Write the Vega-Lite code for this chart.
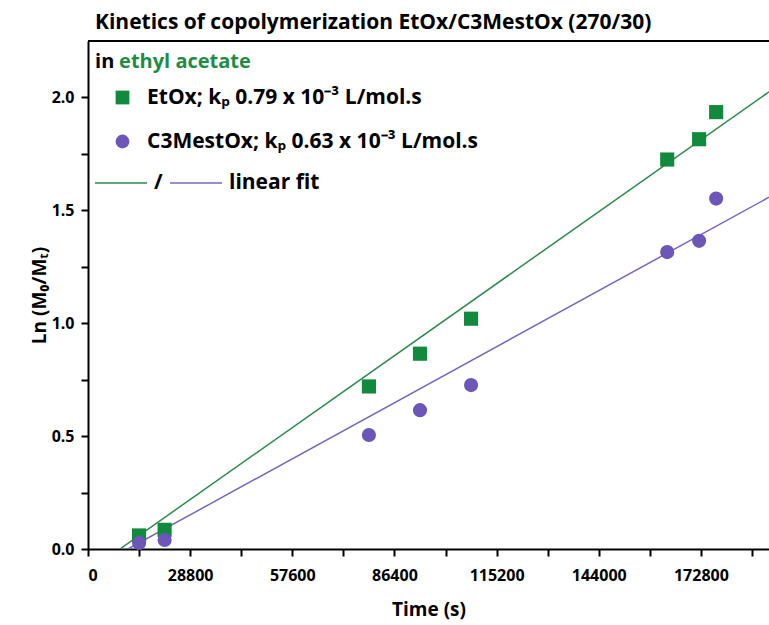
{
  "$schema": "https://vega.github.io/schema/vega-lite/v6.json",
  "autosize": {"type": "none"},
  "padding": {"left": 88, "top": 41, "right": 0, "bottom": 76},
  "width": 681,
  "height": 508,
  "background": "white",
  "title": {
    "text": "Kinetics of copolymerization EtOx/C3MestOx (270/30)",
    "anchor": "start",
    "frame": "group",
    "dx": 7,
    "offset": 7,
    "fontSize": 21,
    "fontWeight": "bold",
    "font": "Open Sans",
    "color": "black"
  },
  "config": {
    "font": "Open Sans",
    "view": {"stroke": null},
    "axis": {
      "grid": false,
      "domainColor": "black",
      "domainWidth": 2,
      "tickColor": "black",
      "tickWidth": 2,
      "tickSize": 7,
      "labelFont": "Open Sans",
      "labelFontSize": 16,
      "labelFontWeight": "bold",
      "labelColor": "black",
      "titleFont": "Open Sans",
      "titleFontSize": 19,
      "titleFontWeight": "bold",
      "titleColor": "black"
    },
    "legend": {
      "labelFont": "Open Sans",
      "labelFontSize": 21,
      "labelFontWeight": "bold",
      "labelColor": "black",
      "labelLimit": 700
    }
  },
  "datasets": {
    "points": [
      {"series": "EtOx", "time": 14400, "ln": 0.06},
      {"series": "EtOx", "time": 21600, "ln": 0.085},
      {"series": "EtOx", "time": 79200, "ln": 0.72},
      {"series": "EtOx", "time": 93600, "ln": 0.865},
      {"series": "EtOx", "time": 108000, "ln": 1.02},
      {"series": "EtOx", "time": 163300, "ln": 1.725},
      {"series": "EtOx", "time": 172300, "ln": 1.815},
      {"series": "EtOx", "time": 177100, "ln": 1.935},
      {"series": "C3MestOx", "time": 14400, "ln": 0.027},
      {"series": "C3MestOx", "time": 21600, "ln": 0.04},
      {"series": "C3MestOx", "time": 79200, "ln": 0.505},
      {"series": "C3MestOx", "time": 93600, "ln": 0.615},
      {"series": "C3MestOx", "time": 108000, "ln": 0.726},
      {"series": "C3MestOx", "time": 163300, "ln": 1.315},
      {"series": "C3MestOx", "time": 172300, "ln": 1.365},
      {"series": "C3MestOx", "time": 177100, "ln": 1.552}
    ],
    "fits": [
      {"fit": "EtOx fit", "time": 9000, "ln": 0},
      {"fit": "EtOx fit", "time": 192000, "ln": 2.025},
      {"fit": "C3MestOx fit", "time": 11260, "ln": 0},
      {"fit": "C3MestOx fit", "time": 192000, "ln": 1.558}
    ],
    "note": [{"a": 1}]
  },
  "layer": [
    {
      "data": {"name": "fits"},
      "mark": {"type": "line", "strokeWidth": 1.5, "clip": true},
      "encoding": {
        "x": {
          "field": "time", "type": "quantitative",
          "scale": {"domain": [0, 192000], "nice": false, "zero": false},
          "axis": {
            "title": "Time (s)",
            "values": [0, 14400, 28800, 43200, 57600, 72000, 86400, 100800, 115200, 129600, 144000, 158400, 172800, 187200],
            "labelExpr": "datum.value % 28800 == 0 ? format(datum.value, 'd') : ''",
            "labelPadding": 11,
            "titlePadding": 17
          }
        },
        "y": {
          "field": "ln", "type": "quantitative",
          "scale": {"domain": [0, 2.25], "nice": false},
          "axis": {
            "title": "Ln (M₀/Mₜ)",
            "values": [0, 0.25, 0.5, 0.75, 1, 1.25, 1.5, 1.75, 2],
            "labelExpr": "datum.value * 2 % 1 == 0 ? format(datum.value, '.1f') : ''",
            "labelPadding": 7,
            "titlePadding": 2
          }
        },
        "stroke": {
          "field": "fit", "type": "nominal",
          "scale": {"domain": ["EtOx fit", "C3MestOx fit"], "range": ["#2a8a4a", "#7766c0"]},
          "legend": {
            "title": null,
            "orient": "none",
            "legendX": 6,
            "legendY": 115,
            "direction": "horizontal",
            "symbolType": "stroke",
            "symbolSize": 2700,
            "symbolStrokeWidth": 1.5,
            "labelOffset": 6,
            "columnPadding": 4,
            "labelExpr": "datum.label == 'EtOx fit' ? '/' : 'linear fit'"
          }
        },
        "detail": {"field": "fit"}
      }
    },
    {
      "data": {"name": "points"},
      "mark": {"type": "point", "filled": true, "opacity": 1, "size": 200},
      "encoding": {
        "x": {"field": "time", "type": "quantitative"},
        "y": {"field": "ln", "type": "quantitative"},
        "color": {
          "field": "series", "type": "nominal",
          "scale": {"domain": ["EtOx", "C3MestOx"], "range": ["#118a3e", "#6c57b8"]},
          "legend": {
            "title": null,
            "orient": "none",
            "legendX": 24,
            "legendY": 46,
            "symbolSize": 190,
            "symbolOpacity": 1,
            "labelOffset": 14,
            "rowPadding": 22,
            "labelExpr": "datum.label == 'EtOx' ? 'EtOx; kₚ 0.79 x 10⁻³ L/mol.s' : 'C3MestOx; kₚ 0.63 x 10⁻³ L/mol.s'"
          }
        },
        "shape": {
          "field": "series", "type": "nominal",
          "scale": {"domain": ["EtOx", "C3MestOx"], "range": ["square", "circle"]}
        }
      }
    },
    {
      "data": {"name": "note"},
      "mark": {"type": "rule", "color": "black", "strokeWidth": 2},
      "encoding": {"y": {"datum": 2.25}}
    },
    {
      "data": {"name": "note"},
      "mark": {"type": "text", "text": "in", "align": "left", "baseline": "middle", "fontSize": 20, "fontWeight": "bold", "color": "black"},
      "encoding": {"x": {"datum": 2000}, "y": {"datum": 2.155}}
    },
    {
      "data": {"name": "note"},
      "mark": {"type": "text", "text": "ethyl acetate", "align": "left", "baseline": "middle", "fontSize": 20, "fontWeight": "bold", "color": "#1e8c45", "dx": 24},
      "encoding": {"x": {"datum": 2000}, "y": {"datum": 2.155}}
    }
  ]
}
